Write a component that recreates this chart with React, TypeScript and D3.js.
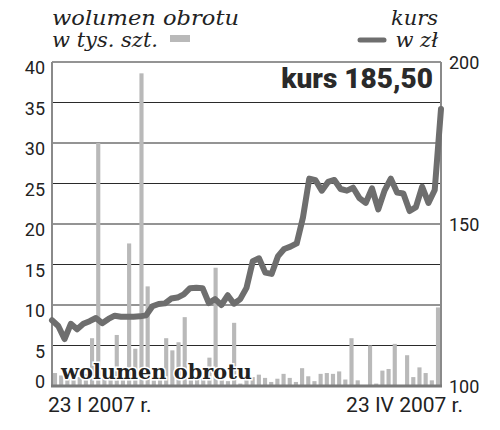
import React from "react";
import * as d3 from "d3";

// trading days 23 I 2007 – 23 IV 2007 (63 sessions)
const holidays = ["2007-04-06", "2007-04-09"];
const fmt = d3.timeFormat("%Y-%m-%d");
const dates: string[] = d3
  .timeDay.range(new Date(2007, 0, 23), new Date(2007, 3, 24))
  .filter((d) => d.getDay() !== 0 && d.getDay() !== 6 && !holidays.includes(fmt(d)))
  .map(fmt);

const volume: number[] = [
  1.6, 1.3, 0.9, 1.4, 1.1, 1.5, 5.9, 30, 1.0, 1.2,
  6.3, 1.1, 17.6, 4.6, 38.6, 12.3, 0.7, 1.2, 5.9, 4.4,
  5.4, 8.5, 1.3, 1.0, 1.2, 3.5, 14.6, 0.7, 0.6, 7.8,
  0.3, 0.8, 1.1, 1.4, 1.0, 0.5, 0.9, 1.5, 1.0, 0.5,
  2.2, 1.2, 0.6, 1.5, 1.6, 1.5, 1.8, 0.8, 5.9, 0.7,
  0.1, 5.0, 0.3, 1.9, 2.1, 5.2, 0.1, 3.8, 1.1, 2.3,
  1.6, 0.7, 9.7,
];

const kurs: number[] = [
  120.3, 118.5, 114.5, 119.2, 117.5, 119.2, 120.0, 121.0, 119.4, 120.7,
  121.7, 121.4, 121.4, 121.4, 121.5, 121.8, 124.6, 125.3, 125.5, 127.0,
  127.3, 128.3, 130.2, 130.3, 130.2, 125.6, 126.8, 125.0, 128.0, 125.4,
  126.8, 130.3, 138.5, 139.4, 135.0, 134.6, 140.0, 142.3, 143.0, 144.0,
  152.0, 164.0, 163.5, 160.3, 163.0, 163.6, 160.8, 160.3, 161.2, 158.0,
  156.5, 161.0, 154.5, 160.3, 164.0, 159.7, 159.4, 154.0, 155.2, 161.5,
  156.5, 160.5, 185.5,
];

const leftTicks = [0, 5, 10, 15, 20, 25, 30, 35, 40];
const rightTicks = [100, 150, 200];
const xLabels = ["23 I 2007 r.", "23 IV 2007 r."];
const lastKurs = "kurs 185,50";

const W = 500, H = 430;
const L = 52, R = 441, T = 62, B = 386;

const DARK = "#6e6e6e";
const BAR = "#b9b9b9";
const NUMFONT = "Roboto, 'DejaVu Sans', sans-serif";
const SERIF = "'DejaVu Serif', serif";

export default function App() {
  const x = d3.scaleBand<string>().domain(dates).range([L, R]).paddingInner(0.33).paddingOuter(0.15);
  const xp = d3.scalePoint<string>().domain(dates).range([L, R]);
  const yL = d3.scaleLinear().domain([0, 40]).range([B, T]);
  const yR = d3.scaleLinear().domain([100, 200]).range([B, T]);
  const line = d3
    .line<number>()
    .x((_, i) => xp(dates[i]) as number)
    .y((d) => yR(d))
    .curve(d3.curveLinear);

  return (
    <svg width={W} height={H} style={{ position: "absolute", left: 0, top: 0, background: "#fff" }}>
      <rect width={W} height={H} fill="#fff" />
      {/* header left */}
      <text x={52} y={25} fontFamily={SERIF} fontStyle="italic" fontSize={21} textLength={187} lengthAdjust="spacingAndGlyphs" fill="#222">
        wolumen obrotu
      </text>
      <text x={52} y={47} fontFamily={SERIF} fontStyle="italic" fontSize={21} fill="#222">
        w tys. szt.
      </text>
      <rect x={170} y={35} width={20} height={7} fill={BAR} />
      {/* header right */}
      <text x={438} y={25} textAnchor="end" fontFamily={SERIF} fontStyle="italic" fontSize={21} fill="#222">
        kurs
      </text>
      <text x={438} y={47} textAnchor="end" fontFamily={SERIF} fontStyle="italic" fontSize={21} fill="#222">
        w zł
      </text>
      <line x1={360} x2={384} y1={40} y2={40} stroke={DARK} strokeWidth={5} strokeLinecap="round" />

      {/* gridlines */}
      {leftTicks.filter((t) => t > 0).map((t) => (
        <line key={t} x1={L} x2={R} y1={yL(t)} y2={yL(t)} stroke="#2a2a2a" strokeWidth={1.2} />
      ))}

      {/* bars */}
      {volume.map((v, i) => (
        <rect key={i} x={x(dates[i])} y={yL(v)} width={x.bandwidth()} height={B - yL(v)} fill={BAR} />
      ))}

      {/* axes frame */}
      <line x1={L} x2={L} y1={T} y2={B} stroke="#8a8a8a" strokeWidth={2} />
      <line x1={R} x2={R} y1={T} y2={B} stroke="#8a8a8a" strokeWidth={2} />
      <line x1={L - 1} x2={R + 1} y1={B} y2={B} stroke="#7a7a7a" strokeWidth={3} />

      {/* kurs line */}
      <path d={line(kurs) || ""} fill="none" stroke={DARK} strokeWidth={6} strokeLinejoin="round" strokeLinecap="round" />

      {/* bottom label */}
      <text
        x={61}
        y={379}
        fontFamily={SERIF}
        fontWeight="bold"
        fontSize={21}
        textLength={191}
        lengthAdjust="spacingAndGlyphs"
        fill="#222"
        stroke="#fff"
        strokeWidth={3}
        paintOrder="stroke"
      >
        wolumen obrotu
      </text>

      {/* last value */}
      <text x={433} y={88} textAnchor="end" fontFamily={NUMFONT} fontWeight={900} fontSize={28} fill="#2a2a2a">
        {lastKurs}
      </text>

      {/* left ticks */}
      {leftTicks.map((t) => (
        <text key={t} x={45} y={yL(t) + (t === 0 ? -4 : 6)} dy="0.35em" textAnchor="end" fontFamily={NUMFONT} fontSize={18} fill="#222">
          {t}
        </text>
      ))}
      {/* right ticks */}
      {rightTicks.map((t) => (
        <text key={t} x={449} y={yR(t) + 1} dy="0.35em" textAnchor="start" fontFamily={NUMFONT} fontSize={18} fill="#222">
          {t}
        </text>
      ))}
      {/* x labels */}
      <text x={48} y={412} fontFamily={NUMFONT} fontSize={21} fill="#222">
        {xLabels[0]}
      </text>
      <text x={463} y={412} textAnchor="end" fontFamily={NUMFONT} fontSize={21} fill="#222">
        {xLabels[1]}
      </text>
    </svg>
  );
}
